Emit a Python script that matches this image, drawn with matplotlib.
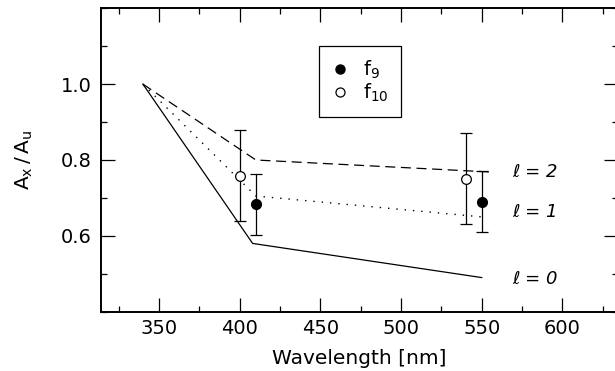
import matplotlib
matplotlib.use('Agg')
from matplotlib import pyplot as plt
from matplotlib.lines import Line2D

# model curves, l = 0, 1, 2
wl_l0 = [340, 408, 550]
ax_l0 = [1.0, 0.58, 0.49]
wl_l1 = [340, 410, 550]
ax_l1 = [1.0, 0.705, 0.65]
wl_l2 = [340, 410, 557]
ax_l2 = [1.0, 0.80, 0.768]

# observed amplitude ratios
f9_wl = [410, 550]
f9_val = [0.683, 0.69]
f9_err = [0.08, 0.08]
f10_wl = [400, 540]
f10_val = [0.758, 0.75]
f10_err = [0.12, 0.12]

curve_labels = ['\u2113 = 2', '\u2113 = 1', '\u2113 = 0']
label_x = 569
label_y = [0.769, 0.662, 0.486]

plt.rcParams['font.family'] = 'DejaVu Sans'
plt.rcParams['font.size'] = 14

fig = plt.figure(figsize=(6.15, 3.71), dpi=100)
ax = fig.add_axes([101 / 615, 59.3 / 371, 517 / 615, 303.4 / 371])

ax.plot(wl_l0, ax_l0, color='black', lw=0.9, ls='-')
ax.plot(wl_l1, ax_l1, color='black', lw=1.0, ls=(0, (1, 5)))
ax.plot(wl_l2, ax_l2, color='black', lw=0.9, ls=(0, (8, 4.5)))

ax.errorbar(f9_wl, f9_val, yerr=f9_err, fmt='o', color='black', ms=7,
            mfc='black', ecolor='black', elinewidth=0.9, capsize=4, capthick=0.9)
ax.errorbar(f10_wl, f10_val, yerr=f10_err, fmt='o', color='black', ms=7,
            mfc='white', mew=0.9, ecolor='black', elinewidth=0.9, capsize=4, capthick=0.9)

for t, y in zip(curve_labels, label_y):
    ax.text(label_x, y, t, style='italic', fontsize=13, va='center', ha='left')

ax.set_xlim(314, 634.5)
ax.set_ylim(0.4, 1.2)
ax.set_xticks([350, 400, 450, 500, 550, 600])
ax.set_xticks([325, 375, 425, 475, 525, 575, 625], minor=True)
ax.set_yticks([0.6, 0.8, 1.0])
ax.set_yticks([0.4, 0.5, 0.7, 0.9, 1.1, 1.2], minor=True)
ax.tick_params(which='both', direction='in', top=True, right=True, width=0.9,
               labelsize=14)
ax.tick_params(which='major', length=10)
ax.tick_params(which='minor', length=4.5)
ax.tick_params(axis='y', pad=7)
ax.tick_params(axis='x', pad=5.5)
for s in ax.spines.values():
    s.set_linewidth(1.4)

ax.set_xlabel('Wavelength [nm]', fontsize=14.5, labelpad=8)
ax.set_ylabel(r'$\mathregular{A_x\,/\,A_u}$', fontsize=14.5, labelpad=18)

handles = [Line2D([], [], ls='none', marker='o', color='black', ms=6.5, mfc='black'),
           Line2D([], [], ls='none', marker='o', color='black', ms=6.5, mfc='white', mew=0.9)]
leg = ax.legend(handles, [r'$\mathregular{f_9}$', r'$\mathregular{f_{10}}$'],
                loc='upper left', bbox_to_anchor=(0.4225, 0.876), borderaxespad=0,
                fontsize=14, fancybox=False, edgecolor='black', framealpha=1,
                borderpad=0.65, handlelength=0.8, handletextpad=0.8, labelspacing=0.05)
leg.get_frame().set_linewidth(0.9)

fig.savefig('out.png', dpi=100)
